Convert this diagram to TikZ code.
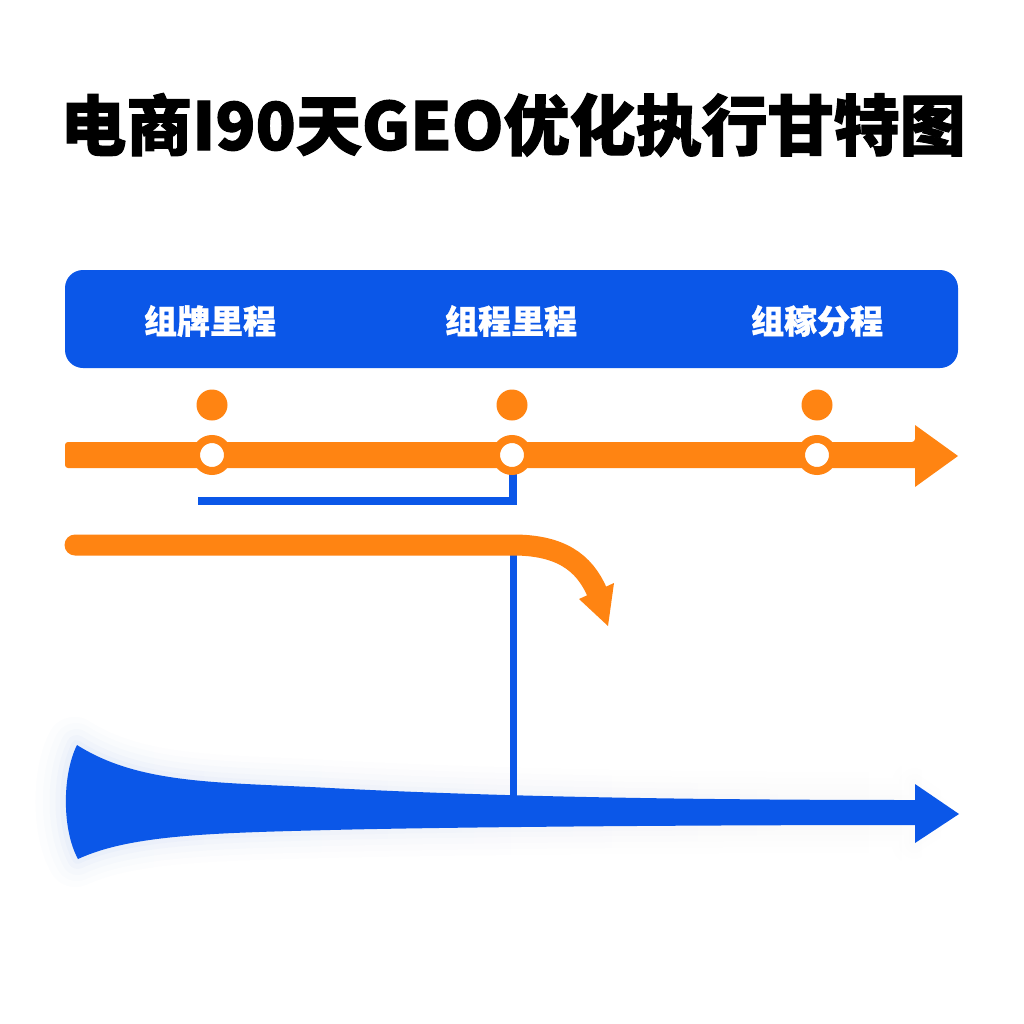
\documentclass[tikz,border=0pt]{standalone}
\usepackage{fontspec}
\usetikzlibrary{calc,fadings}
\newfontfamily\cjk{Noto Sans CJK SC}[BoldFeatures={FakeBold=1.6}]
\newfontfamily\cjklab{Noto Sans CJK SC}[BoldFeatures={FakeBold=1.0}]
\definecolor{bblue}{HTML}{0B57E8}
\definecolor{borange}{HTML}{FF8412}
\tikzset{
  titletext/.style={font=\cjk\bfseries\fontsize{66}{70}\selectfont, text=black, inner sep=0pt},
  phasetext/.style={font=\cjklab\bfseries\fontsize{33}{36}\selectfont, text=white, inner sep=0pt},
  dotmark/.style={circle, fill=borange, minimum size=31pt, inner sep=0pt},
  ringmark/.style={circle, fill=white, draw=borange, line width=8pt, minimum size=32pt, inner sep=0pt},
  bluethin/.style={draw=bblue, line width=8pt},
}
\begin{tikzfadingfrompicture}[name=glowfade]
  \shade[left color=transparent!0, right color=transparent!100] (0,0) rectangle (6,4);
  \fill[transparent!100] (6,0) rectangle (10,4);
\end{tikzfadingfrompicture}
\begin{document}
\begin{tikzpicture}[x=1pt,y=-1pt]
\useasboundingbox[fill=white] (0,0) rectangle (1024,1024);

% title
\node[titletext] (title) at (513,125) {电商I90天GEO优化执行甘特图};

% phase bar
\fill[bblue, rounded corners=18pt] (65,270) rectangle (958,368);
\node[phasetext] (p1) at (210,321) {组牌里程};
\node[phasetext] (p2) at (511,321) {组程里程};
\node[phasetext] (p3) at (817,321) {组稼分程};

% milestone coordinates
\coordinate (m1) at (212,455);
\coordinate (m2) at (512,455);
\coordinate (m3) at (817,455);

% main orange arrow
\fill[borange, rounded corners=3pt] (65,442) -- (915,442) [sharp corners] -- (915,425) -- (958,456) -- (915,487) -- (915,468) [rounded corners=3pt] -- (65,468) -- cycle;

% blue bracket
\coordinate (bk) at (513,501);
\coordinate (bs) at (198,501);
\draw[bluethin, line join=miter] (bs) -- (bk) -- (513,470);

% blue trumpet glow
\def\trumpet{(77,745) .. controls (140,785) and (220,782) .. (330,788) .. controls (500,797) and (700,800) .. (915,800) -- (915,784) -- (959,814) -- (915,843) -- (915,825) .. controls (700,825) and (450,827) .. (330,830) .. controls (210,833) and (130,835) .. (78,859) .. controls (62,830) and (62,775) .. (77,745)}
\foreach \w/\o in {56/0.035,44/0.045,32/0.055,20/0.065,10/0.075}{
  \draw[bblue, opacity=\o, line width=\w pt, line join=round, path fading=glowfade, fit fading=true] \trumpet -- cycle;
}

% vertical connector to the blue arrow
\coordinate (vtop) at (513,553);
\coordinate (vbot) at (513,800);
\draw[draw=bblue, line width=7pt] (vtop) -- (vbot);

% milestones
\foreach \m in {m1,m2,m3}{
  \node[dotmark] at ($(\m)+(0,-50)$) {};
  \node[ringmark] at (\m) {};
}

% curved orange arrow
\draw[borange, line width=21pt, line cap=round] (75,545) -- (513,545) .. controls (560,545) and (584,562) .. (597,592);
\fill[borange] (579,599) -- (614,583) -- (608,626) -- cycle;

% blue trumpet arrow
\fill[bblue] \trumpet -- cycle;
\end{tikzpicture}
\end{document}
